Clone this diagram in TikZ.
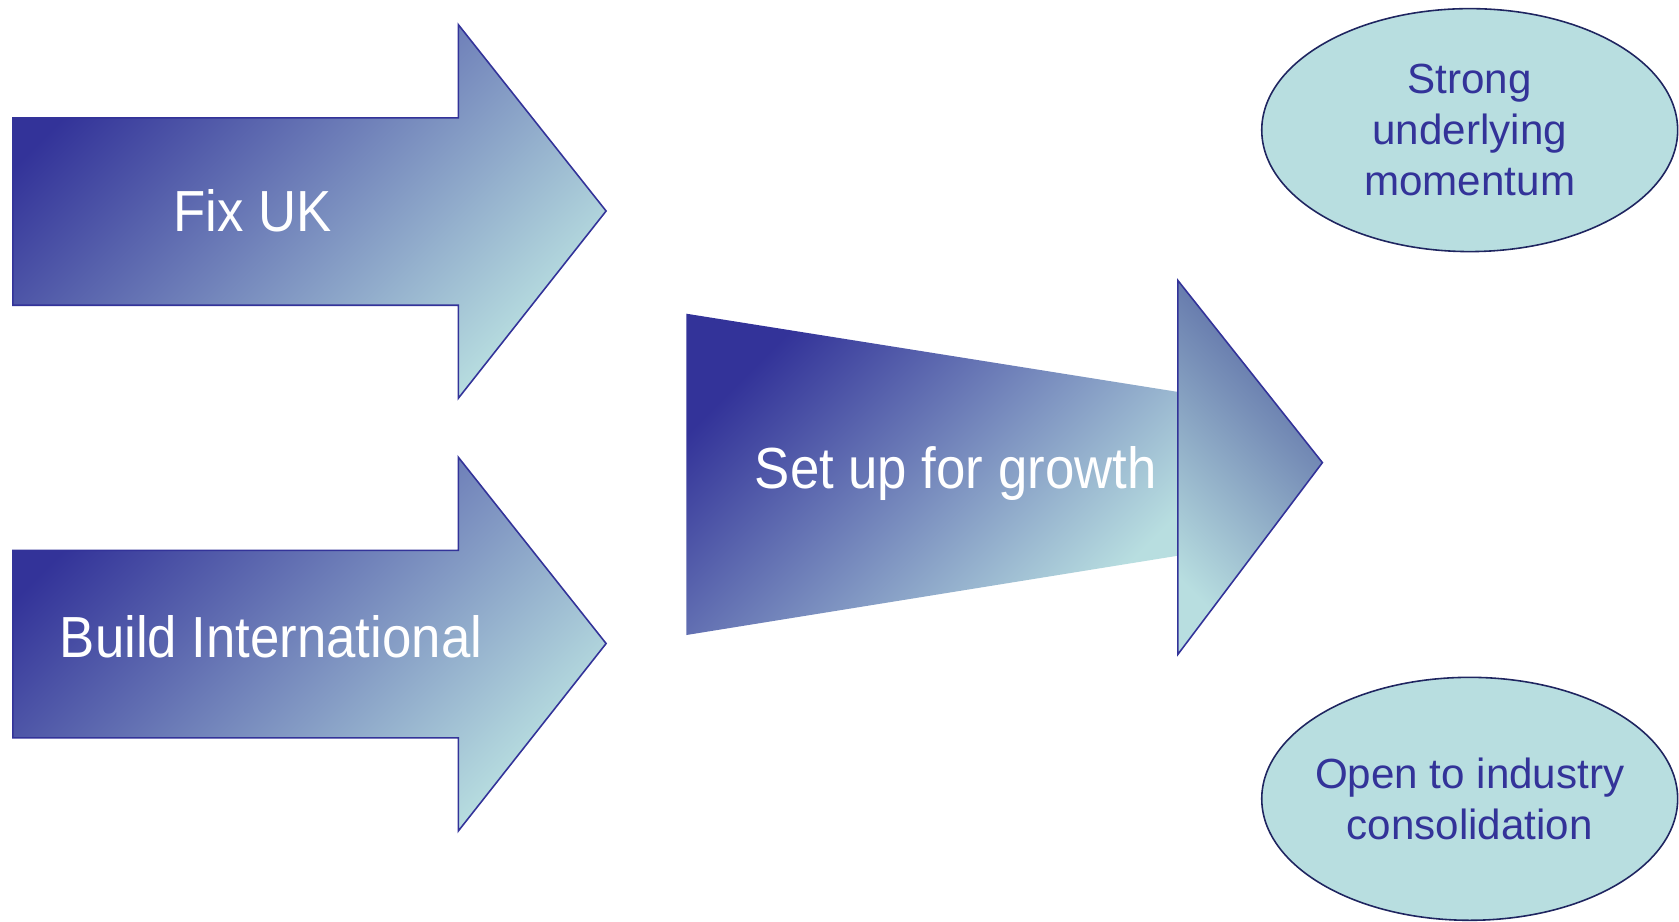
\documentclass[tikz,border=0pt]{standalone}
\usepackage{fontspec}
\setmainfont{Liberation Sans}
\usetikzlibrary{shapes.geometric}

\definecolor{deepblue}{HTML}{333399}
\definecolor{paleteal}{HTML}{B8DEE0}
\definecolor{headblue}{HTML}{5565A2}
\definecolor{rimnavy}{HTML}{1F2560}

\tikzset{
  blockarrow/.style={draw=deepblue, line width=0.9pt, line join=miter,
    shading=axis, top color=deepblue, bottom color=paleteal, shading angle=45},
  taperbody/.style={shading=axis, top color=deepblue, bottom color=paleteal, shading angle=45},
  taperhead/.style={draw=deepblue, line width=0.9pt, line join=miter,
    shading=axis, top color=headblue, bottom color=paleteal, shading angle=-45},
  arrowtext/.style={text=white, anchor=base, inner sep=0pt,
    font=\fontsize{33}{38}\selectfont},
  goal/.style={ellipse, draw=rimnavy, line width=0.9pt, fill=paleteal,
    minimum width=8.32cm, minimum height=4.86cm, inner xsep=-1.2cm, inner ysep=0pt,
    text=deepblue, align=center, font=\fontsize{24}{28.9}\selectfont},
}

\begin{document}
\begin{tikzpicture}[x=0.02cm, y=-0.02cm]
  \useasboundingbox (0,0) rectangle (1679,921);

  % upper block arrow
  \path[blockarrow] (12.8,117.8) -- (458.3,117.8) -- (458.3,24.6) -- (606.1,211)
    -- (458.3,398.3) -- (458.3,305.2) -- (12.8,305.2) -- cycle;
  \node[arrowtext] (fixuk) at (252.7,231.3) {\scalebox{0.91}[1]{Fix UK}};

  % lower block arrow
  \path[blockarrow] (12.8,550.4) -- (458.3,550.4) -- (458.3,457.2) -- (606.1,643.5)
    -- (458.3,831) -- (458.3,737.8) -- (12.8,737.8) -- cycle;
  \node[arrowtext] (intl) at (271,657.5) {\scalebox{0.91}[1]{Build International}};

  % tapered arrow: body without outline, then outlined head
  \path[taperbody] (686.4,313.7) -- (1177.9,391.9) -- (1177.9,555.7) -- (686.4,635) -- cycle;
  \path[taperhead] (1177.9,280.5) -- (1322.4,462.6) -- (1177.9,654.3) -- cycle;
  \node[arrowtext] (growth) at (955.7,488.3) {\scalebox{0.91}[1]{Set up for growth}};

  % outcome ellipses
  \node[goal] (momentum) at (1469.7,130.1) {Strong\\underlying\\momentum};
  \node[goal] (consol) at (1469.7,798.8) {Open to industry\\consolidation};
\end{tikzpicture}
\end{document}
